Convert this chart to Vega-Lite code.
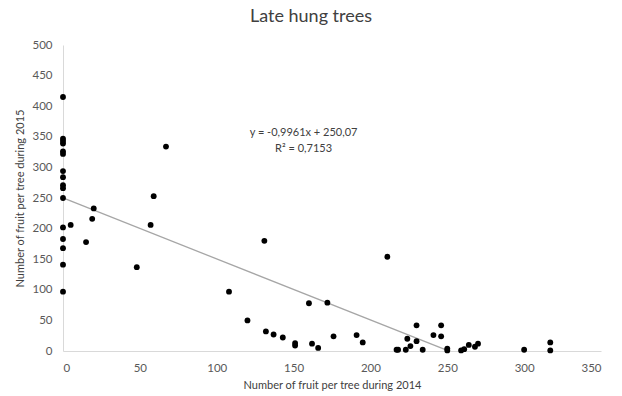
{
  "$schema": "https://vega.github.io/schema/vega-lite/v6.json",
  "autosize": {"type": "none"},
  "width": 538,
  "height": 306,
  "padding": {"left": 63, "top": 45, "right": 21, "bottom": 45},
  "background": "white",
  "title": {
    "text": "Late hung trees",
    "font": "Lato",
    "fontSize": 18,
    "fontWeight": "normal",
    "color": "#404040",
    "anchor": "middle",
    "dx": -21,
    "offset": 13
  },
  "config": {
    "view": {"stroke": null},
    "axis": {
      "labelFont": "Lato",
      "titleFont": "Lato",
      "labelColor": "#595959",
      "titleColor": "#404040",
      "labelFontSize": 11.5,
      "titleFontSize": 11,
      "titleFontWeight": "normal",
      "grid": false,
      "ticks": false,
      "domainColor": "#d9d9d9",
      "domainWidth": 1
    }
  },
  "datasets": {
    "points": [
      {"x2014": 0, "y2015": 415}, {"x2014": 0, "y2015": 347}, {"x2014": 0, "y2015": 343}, {"x2014": 0, "y2015": 339},
      {"x2014": 0, "y2015": 326}, {"x2014": 0, "y2015": 322}, {"x2014": 0, "y2015": 294}, {"x2014": 0, "y2015": 284},
      {"x2014": 0, "y2015": 271}, {"x2014": 0, "y2015": 266}, {"x2014": 0, "y2015": 250}, {"x2014": 0, "y2015": 202},
      {"x2014": 0, "y2015": 183}, {"x2014": 0, "y2015": 168}, {"x2014": 0, "y2015": 141}, {"x2014": 0, "y2015": 97},
      {"x2014": 5, "y2015": 206}, {"x2014": 19, "y2015": 216}, {"x2014": 20, "y2015": 233}, {"x2014": 15, "y2015": 178},
      {"x2014": 48, "y2015": 137}, {"x2014": 57, "y2015": 206}, {"x2014": 59, "y2015": 253}, {"x2014": 67, "y2015": 334},
      {"x2014": 108, "y2015": 97}, {"x2014": 120, "y2015": 50}, {"x2014": 131, "y2015": 180}, {"x2014": 132, "y2015": 32},
      {"x2014": 137, "y2015": 27}, {"x2014": 143, "y2015": 22}, {"x2014": 151, "y2015": 13}, {"x2014": 151, "y2015": 9},
      {"x2014": 160, "y2015": 78}, {"x2014": 162, "y2015": 12}, {"x2014": 166, "y2015": 5}, {"x2014": 172, "y2015": 79},
      {"x2014": 176, "y2015": 24}, {"x2014": 191, "y2015": 26}, {"x2014": 195, "y2015": 14}, {"x2014": 211, "y2015": 154},
      {"x2014": 217, "y2015": 2}, {"x2014": 218, "y2015": 2}, {"x2014": 223, "y2015": 2}, {"x2014": 224, "y2015": 20},
      {"x2014": 226, "y2015": 8}, {"x2014": 230, "y2015": 42}, {"x2014": 230, "y2015": 16}, {"x2014": 234, "y2015": 2},
      {"x2014": 241, "y2015": 26}, {"x2014": 246, "y2015": 42}, {"x2014": 246, "y2015": 24}, {"x2014": 250, "y2015": 4},
      {"x2014": 250, "y2015": 1}, {"x2014": 259, "y2015": 1}, {"x2014": 261, "y2015": 3}, {"x2014": 264, "y2015": 10},
      {"x2014": 268, "y2015": 7}, {"x2014": 270, "y2015": 12}, {"x2014": 300, "y2015": 2}, {"x2014": 317, "y2015": 14},
      {"x2014": 317, "y2015": 1}
    ],
    "trend": [
      {"x2014": 0, "y2015": 250.07},
      {"x2014": 250, "y2015": 1.05}
    ],
    "labels": [
      {"x2014": 156.5, "y2015": 357, "label": "y = -0,9961x + 250,07"},
      {"x2014": 156.5, "y2015": 330, "label": "R² = 0,7153"}
    ]
  },
  "encoding": {
    "x": {
      "field": "x2014", "type": "quantitative",
      "scale": {"domain": [0, 350], "nice": false},
      "axis": {"values": [0, 50, 100, 150, 200, 250, 300, 350], "title": "Number of fruit per tree during 2014", "labelPadding": 11, "titlePadding": 6}
    },
    "y": {
      "field": "y2015", "type": "quantitative",
      "scale": {"domain": [0, 500], "nice": false},
      "axis": {"values": [0, 50, 100, 150, 200, 250, 300, 350, 400, 450, 500], "title": "Number of fruit per tree during 2015", "labelPadding": 11, "titlePadding": 6}
    }
  },
  "layer": [
    {
      "data": {"name": "trend"},
      "mark": {"type": "line", "color": "#a6a6a6", "strokeWidth": 1.3}
    },
    {
      "data": {"name": "points"},
      "mark": {"type": "circle", "size": 34, "color": "#000000", "opacity": 1}
    },
    {
      "data": {"name": "labels"},
      "mark": {"type": "text", "font": "Lato", "fontSize": 11, "color": "#404040", "align": "center", "baseline": "middle"},
      "encoding": {"text": {"field": "label"}}
    }
  ]
}
